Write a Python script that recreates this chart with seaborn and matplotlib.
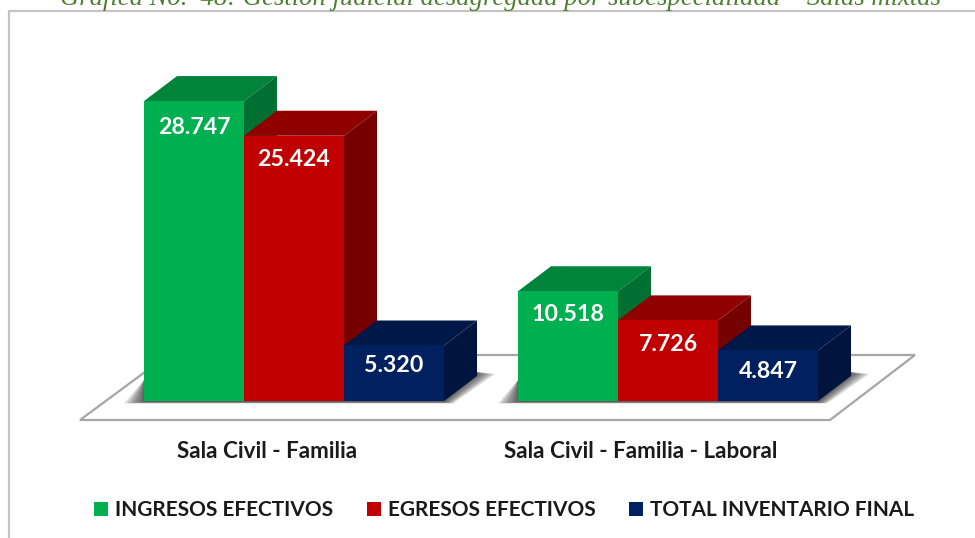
import matplotlib
matplotlib.use('Agg')
import matplotlib.pyplot as plt
from matplotlib.patches import Polygon
from matplotlib.transforms import ScaledTranslation
import pandas as pd
import seaborn as sns

categories = ['Sala Civil - Familia', 'Sala Civil - Familia - Laboral']
ingresos = [28747, 10518]
egresos = [25424, 7726]
inventario = [5320, 4847]
series_names = ['INGRESOS EFECTIVOS', 'EGRESOS EFECTIVOS', 'TOTAL INVENTARIO FINAL']
title = 'Gráfica No.  48: Gestión judicial desagregada por subespecialidad – Salas mixtas'

front_colors = ['#00B050', '#C00000', '#002060']
top_colors = ['#00843C', '#900000', '#001848']
side_colors = ['#006F32', '#760000', '#00143E']
label_pads = [[-37, -34], [-34, -35], [-31, -32]]

W, H = 975, 538
sns.set_theme(style='white')
plt.rcParams['font.family'] = ['Lato', 'DejaVu Sans']

df = pd.DataFrame({'sala': categories,
                   series_names[0]: ingresos,
                   series_names[1]: egresos,
                   series_names[2]: inventario})
df = df.melt(id_vars='sala', var_name='serie', value_name='valor')

fig = plt.figure(figsize=(W / 100, H / 100), dpi=100, facecolor='white')

# background layer in pixel coordinates: frame, floor, shadows, title
bg = fig.add_axes([0, 0, 1, 1], zorder=0)
bg.set_xlim(0, W)
bg.set_ylim(H, 0)
bg.axis('off')
bg.plot([8.5, 8.5, W], [H, 10.7, 10.7], color='#c4c4c4', lw=1.6)
bg.add_patch(Polygon([(80, 420), (830, 420), (915, 355), (168, 355)], closed=True,
                     facecolor='white', edgecolor='#a6a6a6', lw=1.6))
for grow in [18, 15, 12, 9, 6, 3, 1]:
    for x0, x1 in [(144, 444), (518, 818)]:
        bg.add_patch(Polygon([(x0 - grow * 1.1, 402 + grow * 0.08), (x1 + grow * 0.5, 402 + grow * 0.08),
                              (x1 + 33 + grow, 374), (x1 + 33, 372), (x0, 380)],
                             closed=True, facecolor='#202020', edgecolor='none', alpha=0.16))
bg.text(500, 5, title, color='#4F7F32', family='Liberation Serif', style='italic',
        fontsize=19.2, ha='center', va='baseline', clip_on=False)

# main axes: base of bars at pixel y=401, groups centred at 294 and 668
unit = 374
left = (294 - unit / 2) / W
ax = fig.add_axes([left, (H - 401) / H, 2 * unit / W, 313 / H], zorder=1)
ax.patch.set_alpha(0)
sns.barplot(data=df, x='sala', y='valor', hue='serie', hue_order=series_names,
            order=categories, palette=front_colors, width=300 / unit, gap=0,
            saturation=1, edgecolor='none', ax=ax)
ax.set_xlim(-0.5, 1.5)
ax.set_ylim(0, 30000)
ax.set_xlabel('')
ax.set_ylabel('')
ax.set_yticks([])
sns.despine(ax=ax, left=True, bottom=True)

# extruded faces, built from the bars seaborn drew
px_x = 1 / unit
px_y = 30000 / 313
dx, dy = 33 * px_x, 25 * px_y
for s, cont in enumerate(ax.containers):
    for c, bar in enumerate(cont):
        x0, x1 = bar.get_x(), bar.get_x() + bar.get_width()
        h = bar.get_height()
        z = 2 + 3 * (c * 3 + s)
        ax.add_patch(Polygon([(x0, h), (x1, h), (x1 + dx, h + dy), (x0 + dx, h + dy)], closed=True,
                             facecolor=top_colors[s], edgecolor='none', zorder=z, clip_on=False))
        ax.add_patch(Polygon([(x1, 0), (x1 + dx, dy), (x1 + dx, h + dy), (x1, h)], closed=True,
                             facecolor=side_colors[s], edgecolor='none', zorder=z + 1, clip_on=False))
        bar.set_zorder(z + 2)
    labels = [f'{v:,.0f}'.replace(',', '.') for v in cont.datavalues]
    for c, bar in enumerate(cont):
        ax.bar_label(cont, labels=[labels[i] if i == c else '' for i in range(2)],
                     padding=label_pads[s][c] * 0.72, color='white', fontsize=16.7,
                     fontweight='bold', zorder=50)

ax.tick_params(axis='x', length=0, pad=29)
shift = ScaledTranslation(-27 / 100, 0, fig.dpi_scale_trans)
for lab in ax.get_xticklabels():
    lab.set_fontsize(16.2)
    lab.set_fontweight('bold')
    lab.set_color('#1a1a1a')
    lab.set_transform(lab.get_transform() + shift)

handles, names = ax.get_legend_handles_labels()
ax.get_legend().remove()
fig.legend(handles, names, loc='center', bbox_to_anchor=(504 / W, (H - 510) / H), ncol=3,
           frameon=False, handlelength=0.67, handleheight=0.67,
           handletextpad=0.33, columnspacing=1.63, prop={'weight': 'bold', 'size': 15},
           labelcolor='#1a1a1a')

fig.savefig('out.png', dpi=100)
